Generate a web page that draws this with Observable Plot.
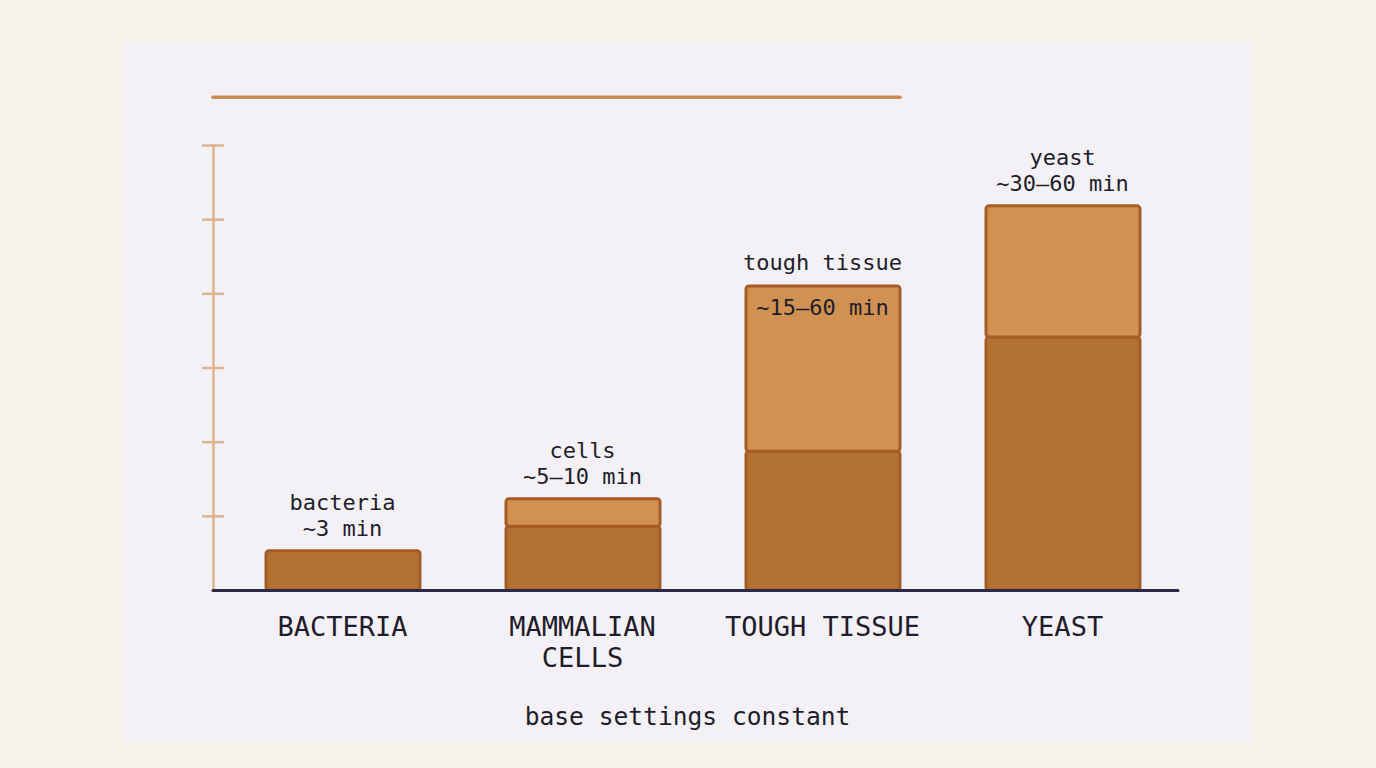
<!DOCTYPE html>
<html>
<head>
<meta charset="utf-8">
<script src="https://cdn.jsdelivr.net/npm/d3@7"></script>
<script src="https://cdn.jsdelivr.net/npm/@observablehq/plot@0.6"></script>
<style>
  html, body { margin: 0; padding: 0; background: #f7f4ec; width: 1376px; height: 768px; overflow: hidden; }
  #panel { position: absolute; left: 123px; top: 42px; width: 1129px; height: 700px; background: #f3f1f6; }
  #chart svg { display: block; background: transparent; }
  #caption { position: absolute; left: 0; width: 100%; top: 660px; text-align: center;
    font-family: "DejaVu Sans Mono", monospace; font-size: 24.6px; color: #1f1d2b; line-height: 30px; }
</style>
</head>
<body>
<div id="panel">
  <div id="chart"></div>
  <div id="caption"></div>
</div>
<script>
// ---- data ----
const categories = ["BACTERIA", "MAMMALIAN\nCELLS", "TOUGH TISSUE", "YEAST"];
const nameLabels = ["bacteria", "cells", "tough tissue", "yeast"];
const rangeLabels = ["~3 min", "~5–10 min", "~15–60 min", "~30–60 min"];
const lowerLevel = [5.3, 8.6, 18.7, 34.1];
const upperLevel = [5.3, 12.3, 41.0, 51.8];
const yTicks = [10, 20, 30, 40, 50, 60];
const referenceLevel = [66.5];
const captionText = "base settings constant";

const rows = categories.map((c, i) => ({
  cat: c, name: nameLabels[i], range: rangeLabels[i], low: lowerLevel[i], high: upperLevel[i]
}));
const upperRows = rows.filter(d => d.high > d.low);
const labelAbove = rows.filter(d => d.name !== "tough tissue");
const labelInside = rows.filter(d => d.name === "tough tissue");

const font = "DejaVu Sans Mono, monospace";
const ink = "#1f1d2b";
const barEdge = "#a65c26";

const chart = Plot.plot({
  width: 1129,
  height: 650,
  marginLeft: 90,
  marginRight: 74,
  marginTop: 103,
  marginBottom: 102,
  style: { fontFamily: font, background: "transparent", color: ink },
  x: { domain: categories, range: [55.5, 1104.5], padding: 0.36, axis: null },
  y: { domain: [0, 60], range: [548, 103], axis: null },
  marks: [
    Plot.frame({ anchor: "left", stroke: "#dcb48f", strokeWidth: 2.5 }),
    Plot.axisY({ ticks: yTicks, tickSize: 22, dx: 11, tickFormat: () => "", stroke: "#dcb48f", strokeWidth: 2.5 }),
    Plot.ruleY(referenceLevel, { stroke: "#c98b52", strokeWidth: 3.5, insetRight: 278, strokeLinecap: "round" }),
    Plot.barY(rows, { x: "cat", y1: 0, y2: "low", fill: "#b37233", stroke: barEdge, strokeWidth: 3, rx: 3 }),
    Plot.barY(upperRows, { x: "cat", y1: "low", y2: "high", fill: "#d09153", stroke: barEdge, strokeWidth: 3, rx: 3 }),
    Plot.ruleY([0], { stroke: "#2a2946", strokeWidth: 3, strokeLinecap: "round" }),
    Plot.text(labelAbove, { x: "cat", y: "high", text: "name", dy: -48, dx: -1, fontSize: 22, fill: ink }),
    Plot.text(labelAbove, { x: "cat", y: "high", text: "range", dy: -22, dx: -1, fontSize: 22, fill: ink }),
    Plot.text(labelInside, { x: "cat", y: "high", text: "name", dy: -23, dx: -1, fontSize: 22, fill: ink }),
    Plot.text(labelInside, { x: "cat", y: "high", text: "range", dy: 22, dx: -1, fontSize: 22, fill: ink }),
    Plot.text(categories, { x: d => d, frameAnchor: "bottom", dy: 23, dx: -1, lineAnchor: "top", lineHeight: 1.15, fontSize: 27, fill: ink })
  ]
});
document.getElementById("chart").appendChild(chart);
document.getElementById("caption").textContent = captionText;
</script>
</body>
</html>
